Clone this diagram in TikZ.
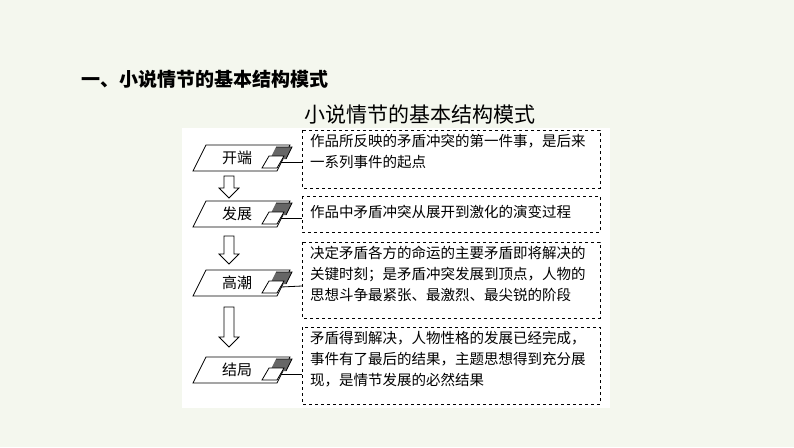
\documentclass[tikz,border=0pt]{standalone}
\usepackage{fontspec}
\newfontfamily\cjk{Noto Sans CJK SC}
\definecolor{bg}{HTML}{F4F7EE}
\tikzset{
 txt/.style={font=\cjk\fontsize{14.5}{21}\selectfont,align=left,anchor=north west,inner sep=0pt},
 dbox/.style={draw,dashed,thick},
 downarrow/.style={draw,thick,fill=white},
}
\newcommand\darrow[3]{% x, ytop, ybottom
 \draw[downarrow] (#1-5,#2) -- (#1+5,#2) -- (#1+5,#3-10) -- (#1+10,#3-10) -- (#1,#3) -- (#1-10,#3-10) -- (#1-5,#3-10) -- cycle;}
\begin{document}
\begin{tikzpicture}[x=1pt,y=-1pt]
\fill[bg] (0,0) rectangle (794,447);
\useasboundingbox (0,0) rectangle (794,447);
\fill[white] (182,128) rectangle (610,408);
\node[font=\cjk\bfseries\fontsize{19}{19}\selectfont,anchor=west] (t1) at (78,79) {一、小说情节的基本结构模式};
\node[font=\cjk\fontsize{21}{21}\selectfont] (t2) at (420,114) {小说情节的基本结构模式};
\newcommand\stage[3]{% name, y, label
 \draw[thick,fill=white] (193,#2+13) -- (206,#2-13) -- (290,#2-13) -- (277,#2+13) -- cycle;
 \node[font=\cjk\fontsize{15}{15}\selectfont] (#1) at (237,#2) {#3};
 \fill[gray!80!black] (276,#2-11) -- (292,#2-11) -- (286,#2+1) -- (270,#2+1) -- cycle;
 \draw[thick] (276,#2-11) -- (292,#2-11) -- (286,#2+1);
 \draw[thick,fill=white] (262,#2+10) -- (269,#2-2) -- (284,#2-2) -- (277,#2+10) -- cycle;
 \coordinate (#1c) at (281,#2+4);
}
\stage{s1}{158}{开端}
\stage{s2}{214}{发展}
\stage{s3}{283}{高潮}
\stage{s4}{370}{结局}
\draw[dbox] (302,130) rectangle (600,188); \coordinate (b1) at (302,162);
\draw[dbox] (302,196) rectangle (600,232); \coordinate (b2) at (302,218);
\draw[dbox] (302,242) rectangle (600,318); \coordinate (b3) at (302,286);
\draw[dbox] (302,327) rectangle (600,404); \coordinate (b4) at (302,374);
\draw[thick] (s1c) -- (b1); \draw[thick] (s2c) -- (b2);
\draw[thick] (s3c) -- (b3); \draw[thick] (s4c) -- (b4);
\node[txt] (x1) at (310,134) {作品所反映的矛盾冲突的第一件事，是后来\\一系列事件的起点};
\node[txt] (x2) at (310,205) {作品中矛盾冲突从展开到激化的演变过程};
\node[txt] (x3) at (310,246) {决定矛盾各方的命运的主要矛盾即将解决的\\关键时刻；是矛盾冲突发展到顶点，人物的\\思想斗争最紧张、最激烈、最尖锐的阶段};
\node[txt] (x4) at (310,331) {矛盾得到解决，人物性格的发展已经完成，\\事件有了最后的结果，主题思想得到充分展\\现，是情节发展的必然结果};
\darrow{229}{176}{198}
\darrow{229}{236}{264}
\darrow{229}{307}{347}
\end{tikzpicture}
\end{document}
